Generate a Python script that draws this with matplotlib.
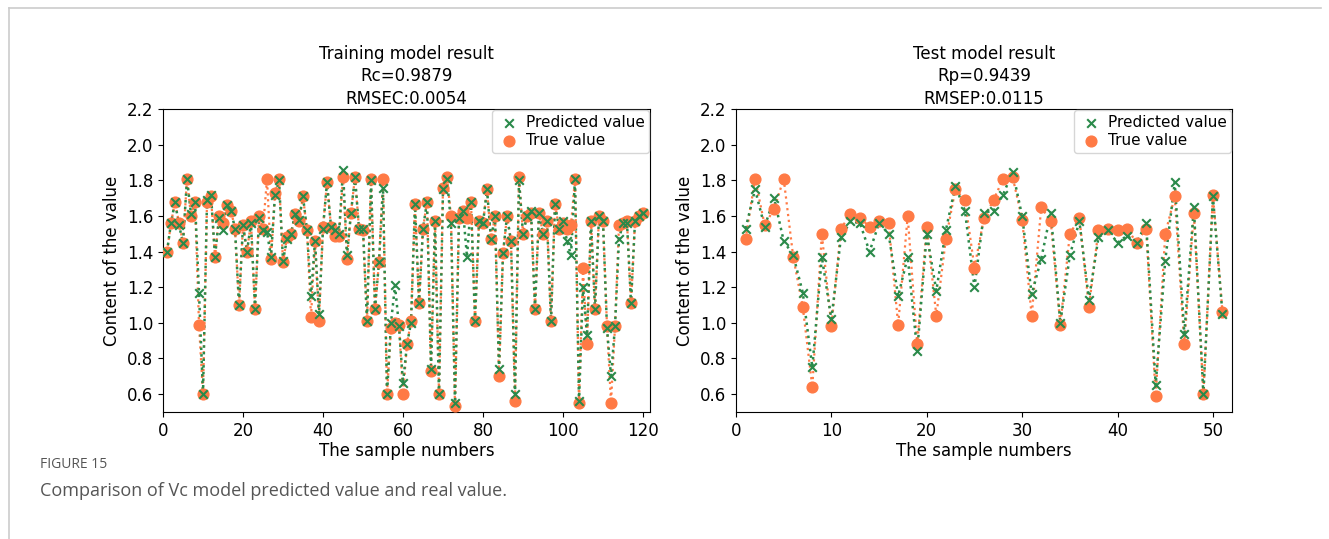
import numpy as np
import matplotlib
matplotlib.use("Agg")
import matplotlib.pyplot as plt
from matplotlib.lines import Line2D

# training set: predicted vs measured Vc content
train_pred = [1.40, 1.56, 1.68, 1.55, 1.45, 1.81, 1.61, 1.68, 1.17, 0.60,
              1.69, 1.72, 1.37, 1.59, 1.52, 1.66, 1.63, 1.53, 1.10, 1.55,
              1.40, 1.56, 1.08, 1.59, 1.52, 1.51, 1.37, 1.72, 1.80, 1.35,
              1.47, 1.50, 1.61, 1.58, 1.71, 1.52, 1.15, 1.46, 1.05, 1.53,
              1.79, 1.54, 1.52, 1.50, 1.86, 1.38, 1.62, 1.82, 1.53, 1.53,
              1.01, 1.80, 1.08, 1.34, 1.76, 0.60, 1.00, 1.21, 0.98, 0.66,
              0.88, 1.00, 1.67, 1.11, 1.53, 1.68, 0.74, 1.57, 0.60, 1.75,
              1.81, 1.56, 0.55, 1.59, 1.63, 1.37, 1.68, 1.01, 1.57, 1.56,
              1.75, 1.47, 1.60, 0.74, 1.39, 1.60, 1.46, 0.60, 1.80, 1.50,
              1.60, 1.63, 1.08, 1.62, 1.50, 1.57, 1.01, 1.67, 1.53, 1.57,
              1.46, 1.38, 1.81, 0.56, 1.20, 0.93, 1.57, 1.08, 1.60, 1.57,
              0.97, 0.70, 0.98, 1.47, 1.56, 1.56, 1.11, 1.57, 1.60, 1.62]
train_true = [1.40, 1.56, 1.68, 1.56, 1.45, 1.81, 1.60, 1.68, 0.99, 0.60,
              1.68, 1.71, 1.37, 1.60, 1.56, 1.66, 1.63, 1.53, 1.10, 1.55,
              1.40, 1.57, 1.08, 1.60, 1.53, 1.81, 1.36, 1.73, 1.81, 1.34,
              1.48, 1.50, 1.61, 1.57, 1.71, 1.52, 1.03, 1.46, 1.01, 1.54,
              1.79, 1.54, 1.49, 1.49, 1.82, 1.36, 1.62, 1.82, 1.53, 1.52,
              1.01, 1.81, 1.08, 1.34, 1.81, 0.60, 0.97, 1.00, 0.99, 0.60,
              0.88, 1.01, 1.67, 1.11, 1.53, 1.68, 0.73, 1.57, 0.60, 1.76,
              1.82, 1.60, 0.53, 1.59, 1.63, 1.59, 1.68, 1.01, 1.57, 1.56,
              1.75, 1.47, 1.60, 0.70, 1.39, 1.60, 1.46, 0.56, 1.82, 1.50,
              1.60, 1.62, 1.08, 1.62, 1.50, 1.57, 1.01, 1.67, 1.53, 1.56,
              1.53, 1.55, 1.81, 0.55, 1.31, 0.88, 1.57, 1.08, 1.60, 1.57,
              0.98, 0.55, 0.98, 1.55, 1.56, 1.57, 1.11, 1.57, 1.60, 1.62]

# test set
test_pred = [1.53, 1.75, 1.54, 1.70, 1.46, 1.38, 1.17, 0.75, 1.37, 1.02,
             1.48, 1.57, 1.56, 1.40, 1.56, 1.50, 1.15, 1.37, 0.84, 1.50,
             1.18, 1.52, 1.77, 1.63, 1.20, 1.62, 1.63, 1.72, 1.85, 1.60,
             1.16, 1.36, 1.62, 1.00, 1.38, 1.57, 1.13, 1.48, 1.52, 1.45,
             1.49, 1.45, 1.56, 0.65, 1.35, 1.79, 0.94, 1.65, 0.60, 1.71,
             1.05]
test_true = [1.47, 1.81, 1.55, 1.64, 1.81, 1.37, 1.09, 0.64, 1.50, 0.98,
             1.53, 1.61, 1.59, 1.54, 1.57, 1.56, 0.99, 1.60, 0.88, 1.54,
             1.04, 1.47, 1.75, 1.69, 1.31, 1.59, 1.69, 1.81, 1.82, 1.58,
             1.04, 1.65, 1.57, 0.99, 1.50, 1.59, 1.09, 1.52, 1.53, 1.52,
             1.53, 1.45, 1.53, 0.59, 1.50, 1.71, 0.88, 1.62, 0.60, 1.72,
             1.06]

titles = ["Training model result\nRc=0.9879\nRMSEC:0.0054",
          "Test model result\nRp=0.9439\nRMSEP:0.0115"]

green = "#2a8a4a"
orange = "#ff7a45"

plt.rcParams["font.size"] = 12

fig = plt.figure(figsize=(13.29, 5.39), dpi=100)
ax1 = fig.add_axes([163 / 1329, 1 - 411.8 / 539, 487 / 1329, 302.5 / 539])
ax2 = fig.add_axes([736 / 1329, 1 - 411.8 / 539, 496 / 1329, 302.5 / 539])

for ax, pred, true, title, xmax in [(ax1, train_pred, train_true, titles[0], 121.75),
                                    (ax2, test_pred, test_true, titles[1], 52)]:
    x = np.arange(1, len(pred) + 1)
    # dotted connecting lines, then the markers on top
    ax.plot(x, true, ":", color=orange, lw=1.6, zorder=2)
    ax.plot(x, pred, ":", color=green, lw=1.8, zorder=3)
    ax.scatter(x, pred, marker="x", s=38, color=green, linewidths=1.5,
               label="Predicted value", zorder=5)
    ax.scatter(x, true, marker="o", s=60, color=orange,
               label="True value", zorder=4)
    ax.set_xlim(0, xmax)
    ax.set_ylim(0.5, 2.2)
    ax.set_yticks(np.arange(0.6, 2.21, 0.2))
    ax.set_title(title, fontsize=12, linespacing=1.32, pad=4)
    ax.set_xlabel("The sample numbers", labelpad=2)
    ax.set_ylabel("Content of the value")
    ax.legend(loc="upper right", fontsize=11, borderaxespad=0.05,
              handletextpad=0.3, borderpad=0.3, labelspacing=0.25,
              handlelength=1.6)

ax1.set_xticks(range(0, 121, 20))
ax2.set_xticks(range(0, 51, 10))

# caption and page frame
fig.text(40 / 1329, 1 - 468 / 539, "FIGURE 15", fontsize=10, color="#555555",
         family="Open Sans")
fig.text(40 / 1329, 1 - 496 / 539,
         "Comparison of Vc model predicted value and real value.",
         fontsize=13, color="#555555", family="Open Sans")
fig.add_artist(Line2D([9 / 1329, 9 / 1329], [0, 1 - 8 / 539],
                      color="#cccccc", lw=1.2))
fig.add_artist(Line2D([9 / 1329, 1321 / 1329], [1 - 8 / 539, 1 - 8 / 539],
                      color="#cccccc", lw=1.2))

fig.savefig("out.png", dpi=100)
